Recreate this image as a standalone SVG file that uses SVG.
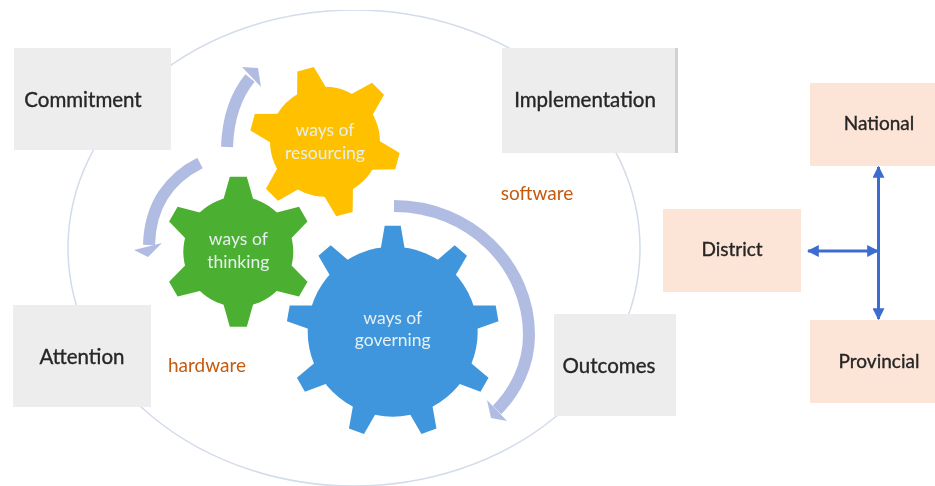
<svg xmlns="http://www.w3.org/2000/svg" width="935" height="486" viewBox="0 0 935 486">
<defs>
<style>
text{font-family:"Lato","Open Sans","Liberation Sans",sans-serif;text-anchor:middle}
.lbl{font-size:20.5px;fill:#262626;stroke:#262626;stroke-width:.35}
.lbs{font-size:19px;fill:#262626;stroke:#262626;stroke-width:.35}
.gl{font-size:17.5px;fill:#e6f0f0}
.sw{font-size:19px;fill:#c55a11}
.gbox{fill:#ededed}
.pbox{fill:#fce4d6}
.cycle{fill:none;stroke:#b0bce2;stroke-width:12}
.head{fill:#b0bce2}
.link{stroke:#3d6cd0;stroke-width:3;fill:none;marker-start:url(#ah);marker-end:url(#ah)}
</style>
<filter id="soft" x="0" y="0" width="100%" height="100%"><feGaussianBlur stdDeviation="0.45"/></filter>
<marker id="ah" viewBox="0 0 10 10" refX="9" refY="5" markerWidth="4" markerHeight="4" orient="auto-start-reverse"><path d="M0 0L10 5L0 10Z" fill="#3d6cd0"/></marker>
<polygon id="tg" points="-15,-52 -8.5,-75 8.5,-75 15,-52" />
<polygon id="tb" points="-12.5,-80 -8,-106 8,-106 12.5,-80" />
</defs>
<rect width="935" height="486" fill="#fff"/>
<g filter="url(#soft)">
<ellipse id="boundary" cx="354" cy="248" rx="286" ry="238" fill="none" stroke="#d3dcea" stroke-width="1.5"/>
<g id="commitment"><rect class="gbox" x="14" y="48" width="157" height="102"/><text class="lbl" x="83" y="107">Commitment</text></g>
<g id="implementation"><rect class="gbox" x="502" y="48" width="176" height="105"/><rect x="675" y="48" width="3" height="105" fill="#d2d2d2"/><text class="lbl" x="585" y="107">Implementation</text></g>
<g id="attention"><rect class="gbox" x="13" y="305" width="138" height="102"/><text class="lbl" x="82" y="364">Attention</text></g>
<g id="outcomes"><rect class="gbox" x="554" y="314" width="122" height="102"/><text class="lbl" x="609" y="373">Outcomes</text></g>
<g id="gear-resourcing" fill="#ffc000" transform="translate(325 141.7)">
<circle r="55"/>
<use href="#tg" transform="rotate(-15)"/><use href="#tg" transform="rotate(45)"/><use href="#tg" transform="rotate(105)"/><use href="#tg" transform="rotate(165)"/><use href="#tg" transform="rotate(225)"/><use href="#tg" transform="rotate(285)"/>
<text class="gl" x="0" y="-6">ways of</text><text class="gl" x="0" y="17">resourcing</text>
</g>
<g id="gear-thinking" fill="#4caf30" transform="translate(238.3 251.7)">
<circle r="55"/>
<use href="#tg"/><use href="#tg" transform="rotate(60)"/><use href="#tg" transform="rotate(120)"/><use href="#tg" transform="rotate(180)"/><use href="#tg" transform="rotate(240)"/><use href="#tg" transform="rotate(300)"/>
<text class="gl" x="0" y="-7">ways of</text><text class="gl" x="0" y="16">thinking</text>
</g>
<g id="gear-governing" fill="#3f96dc" transform="translate(392.7 331.7)">
<circle r="85"/>
<use href="#tb"/><use href="#tb" transform="rotate(40)"/><use href="#tb" transform="rotate(80)"/><use href="#tb" transform="rotate(120)"/><use href="#tb" transform="rotate(160)"/><use href="#tb" transform="rotate(200)"/><use href="#tb" transform="rotate(240)"/><use href="#tb" transform="rotate(280)"/><use href="#tb" transform="rotate(320)"/>
<text class="gl" x="0" y="-8">ways of</text><text class="gl" x="0" y="14">governing</text>
</g>
<text id="software" class="sw" x="537" y="200">software</text>
<text id="hardware" class="sw" x="207" y="372">hardware</text>
<g id="national"><rect class="pbox" x="810" y="83" width="125" height="83"/><text class="lbs" x="879" y="130">National</text></g>
<g id="district"><rect class="pbox" x="663" y="209" width="138" height="83"/><text class="lbs" x="732" y="256">District</text></g>
<g id="provincial"><rect class="pbox" x="810" y="320" width="125" height="83"/><text class="lbs" x="879" y="368">Provincial</text></g>
<g id="connectors">
<path class="cycle" d="M394 206C470 206 529 265 529 335C529 365 515 392 497 410"/>
<polygon class="head" points="487,400 507,421 491,418"/>
<path class="cycle" d="M227 147C228 118 236 95 250 78"/>
<polygon class="head" points="242,67 258,68 261,87"/>
<path class="cycle" d="M200 163C170 178 150 205 149 245"/>
<polygon class="head" points="134,250 162,243 148,257"/>
<path class="link" d="M878.5 167V319"/>
<path class="link" d="M808 251H878"/>
</g>
</g>
</svg>
